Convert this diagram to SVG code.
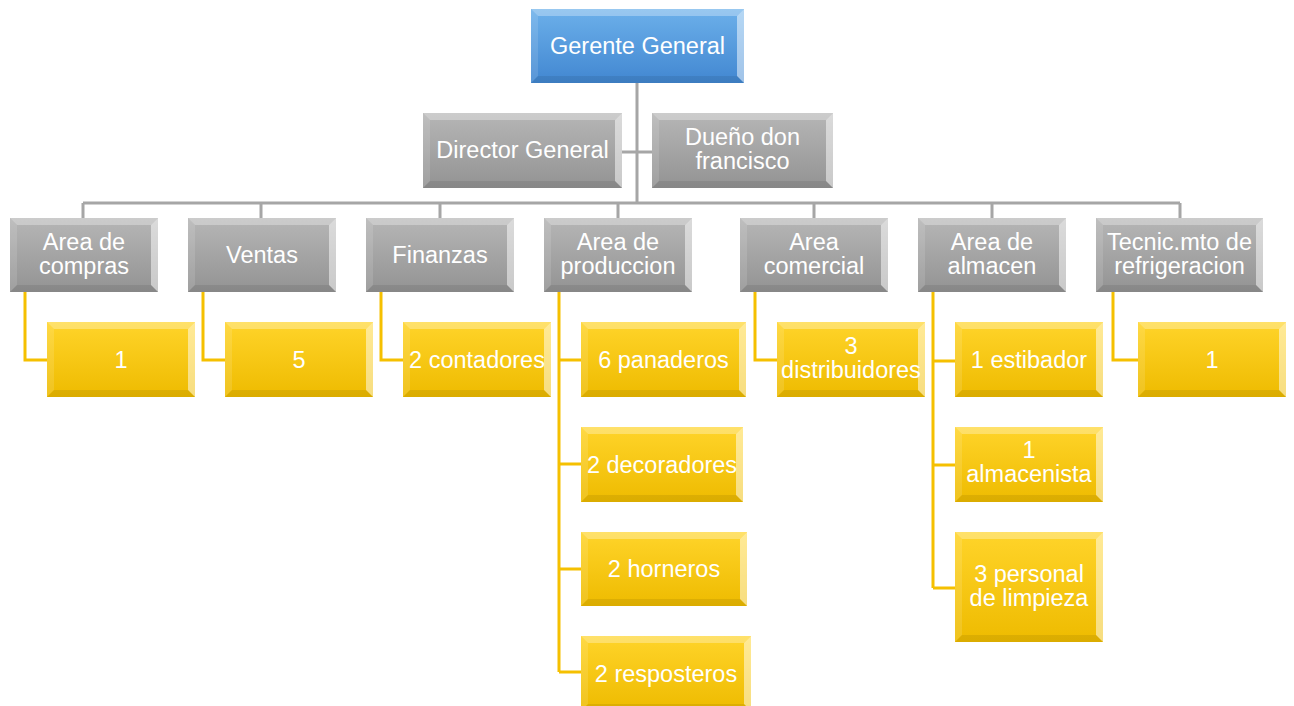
<svg xmlns="http://www.w3.org/2000/svg" width="1294" height="706" viewBox="0 0 1294 706">
<style>
.t{font-family:"Liberation Sans",Arial,sans-serif;font-size:23.5px;fill:#ffffff;text-anchor:middle}
.bt{fill:#ffffff;fill-opacity:0.3}
.bl{fill:#ffffff;fill-opacity:0.12}
.br{fill:#ffffff;fill-opacity:0.5}
.bb{fill:#000000;fill-opacity:0.08}
.cg{fill:none;stroke:#a6a6a6;stroke-width:3}
.cy{fill:none;stroke:#f5c000;stroke-width:3}
.blue{fill:url(#gBlue)}
.gray{fill:url(#gGray)}
.yel{fill:url(#gYel)}
</style>
<defs>
<linearGradient id="gBlue" x1="0" y1="0" x2="0" y2="1"><stop offset="0" stop-color="#6cb0ea"/><stop offset="1" stop-color="#4287d1"/></linearGradient>
<linearGradient id="gGray" x1="0" y1="0" x2="0" y2="1"><stop offset="0" stop-color="#b6b6b6"/><stop offset="1" stop-color="#939393"/></linearGradient>
<linearGradient id="gYel" x1="0" y1="0" x2="0" y2="1"><stop offset="0" stop-color="#ffd42a"/><stop offset="1" stop-color="#eebb00"/></linearGradient>
</defs>
<rect width="1294" height="706" fill="#ffffff"/>
<g id="connectors">
<path class="cg" d="M637 83V203M622 152H652M83 203H1180M83 203V218M261 203V218M440 203V218M618 203V218M814 203V218M992 203V218M1180 203V218"/>
<path class="cy" d="M25 292V360H47M203 292V360H225M381 292V360H403M559 292V672M559 360H581M559 464H581M559 569H581M559 672H581M755 292V360H777M933 292V588M933 361H955M933 465H955M933 588H955M1113 292V360H1138"/>
</g>
<g id="gerente" transform="translate(531,9)">
<rect class="blue" width="213" height="74"/>
<polygon class="bt" points="0,0 213,0 206,7 7,7"/><polygon class="bl" points="0,0 7,7 7,67 0,74"/><polygon class="br" points="213,0 213,74 206,67 206,7"/><polygon class="bb" points="0,74 213,74 206,67 7,67"/>
<text class="t" x="106.5" y="45">Gerente General</text>
</g>
<g id="director" transform="translate(423,113)">
<rect class="gray" width="199" height="75"/>
<polygon class="bt" points="0,0 199,0 192,7 7,7"/><polygon class="bl" points="0,0 7,7 7,68 0,75"/><polygon class="br" points="199,0 199,75 192,68 192,7"/><polygon class="bb" points="0,75 199,75 192,68 7,68"/>
<text class="t" x="99.5" y="45">Director General</text>
</g>
<g id="dueno" transform="translate(652,113)">
<rect class="gray" width="181" height="75"/>
<polygon class="bt" points="0,0 181,0 174,7 7,7"/><polygon class="bl" points="0,0 7,7 7,68 0,75"/><polygon class="br" points="181,0 181,75 174,68 174,7"/><polygon class="bb" points="0,75 181,75 174,68 7,68"/>
<text class="t" x="90.5" y="32">Dueño don<tspan x="90.5" dy="24">francisco</tspan></text>
</g>
<g id="compras" transform="translate(10,218)">
<rect class="gray" width="148" height="74"/>
<polygon class="bt" points="0,0 148,0 141,7 7,7"/><polygon class="bl" points="0,0 7,7 7,67 0,74"/><polygon class="br" points="148,0 148,74 141,67 141,7"/><polygon class="bb" points="0,74 148,74 141,67 7,67"/>
<text class="t" x="74" y="32">Area de<tspan x="74" dy="24">compras</tspan></text>
</g>
<g id="ventas" transform="translate(188,218)">
<rect class="gray" width="148" height="74"/>
<polygon class="bt" points="0,0 148,0 141,7 7,7"/><polygon class="bl" points="0,0 7,7 7,67 0,74"/><polygon class="br" points="148,0 148,74 141,67 141,7"/><polygon class="bb" points="0,74 148,74 141,67 7,67"/>
<text class="t" x="74" y="45">Ventas</text>
</g>
<g id="finanzas" transform="translate(366,218)">
<rect class="gray" width="148" height="74"/>
<polygon class="bt" points="0,0 148,0 141,7 7,7"/><polygon class="bl" points="0,0 7,7 7,67 0,74"/><polygon class="br" points="148,0 148,74 141,67 141,7"/><polygon class="bb" points="0,74 148,74 141,67 7,67"/>
<text class="t" x="74" y="45">Finanzas</text>
</g>
<g id="produccion" transform="translate(544,218)">
<rect class="gray" width="148" height="74"/>
<polygon class="bt" points="0,0 148,0 141,7 7,7"/><polygon class="bl" points="0,0 7,7 7,67 0,74"/><polygon class="br" points="148,0 148,74 141,67 141,7"/><polygon class="bb" points="0,74 148,74 141,67 7,67"/>
<text class="t" x="74" y="32">Area de<tspan x="74" dy="24">produccion</tspan></text>
</g>
<g id="comercial" transform="translate(740,218)">
<rect class="gray" width="148" height="74"/>
<polygon class="bt" points="0,0 148,0 141,7 7,7"/><polygon class="bl" points="0,0 7,7 7,67 0,74"/><polygon class="br" points="148,0 148,74 141,67 141,7"/><polygon class="bb" points="0,74 148,74 141,67 7,67"/>
<text class="t" x="74" y="32">Area<tspan x="74" dy="24">comercial</tspan></text>
</g>
<g id="almacen" transform="translate(918,218)">
<rect class="gray" width="148" height="74"/>
<polygon class="bt" points="0,0 148,0 141,7 7,7"/><polygon class="bl" points="0,0 7,7 7,67 0,74"/><polygon class="br" points="148,0 148,74 141,67 141,7"/><polygon class="bb" points="0,74 148,74 141,67 7,67"/>
<text class="t" x="74" y="32">Area de<tspan x="74" dy="24">almacen</tspan></text>
</g>
<g id="tecnic" transform="translate(1096,218)">
<rect class="gray" width="167" height="74"/>
<polygon class="bt" points="0,0 167,0 160,7 7,7"/><polygon class="bl" points="0,0 7,7 7,67 0,74"/><polygon class="br" points="167,0 167,74 160,67 160,7"/><polygon class="bb" points="0,74 167,74 160,67 7,67"/>
<text class="t" x="83.5" y="32">Tecnic.mto de<tspan x="83.5" dy="24">refrigeracion</tspan></text>
</g>
<g id="compras1" transform="translate(47,322)">
<rect class="yel" width="148" height="75"/>
<polygon class="bt" points="0,0 148,0 141,7 7,7"/><polygon class="bl" points="0,0 7,7 7,68 0,75"/><polygon class="br" points="148,0 148,75 141,68 141,7"/><polygon class="bb" points="0,75 148,75 141,68 7,68"/>
<text class="t" x="74" y="46">1</text>
</g>
<g id="ventas1" transform="translate(225,322)">
<rect class="yel" width="148" height="75"/>
<polygon class="bt" points="0,0 148,0 141,7 7,7"/><polygon class="bl" points="0,0 7,7 7,68 0,75"/><polygon class="br" points="148,0 148,75 141,68 141,7"/><polygon class="bb" points="0,75 148,75 141,68 7,68"/>
<text class="t" x="74" y="46">5</text>
</g>
<g id="finanzas1" transform="translate(403,322)">
<rect class="yel" width="148" height="75"/>
<polygon class="bt" points="0,0 148,0 141,7 7,7"/><polygon class="bl" points="0,0 7,7 7,68 0,75"/><polygon class="br" points="148,0 148,75 141,68 141,7"/><polygon class="bb" points="0,75 148,75 141,68 7,68"/>
<text class="t" x="74" y="46">2 contadores</text>
</g>
<g id="prod1" transform="translate(581,322)">
<rect class="yel" width="165" height="75"/>
<polygon class="bt" points="0,0 165,0 158,7 7,7"/><polygon class="bl" points="0,0 7,7 7,68 0,75"/><polygon class="br" points="165,0 165,75 158,68 158,7"/><polygon class="bb" points="0,75 165,75 158,68 7,68"/>
<text class="t" x="82.5" y="46">6 panaderos</text>
</g>
<g id="prod2" transform="translate(581,427)">
<rect class="yel" width="162" height="75"/>
<polygon class="bt" points="0,0 162,0 155,7 7,7"/><polygon class="bl" points="0,0 7,7 7,68 0,75"/><polygon class="br" points="162,0 162,75 155,68 155,7"/><polygon class="bb" points="0,75 162,75 155,68 7,68"/>
<text class="t" x="81" y="46">2 decoradores</text>
</g>
<g id="prod3" transform="translate(581,532)">
<rect class="yel" width="166" height="74"/>
<polygon class="bt" points="0,0 166,0 159,7 7,7"/><polygon class="bl" points="0,0 7,7 7,67 0,74"/><polygon class="br" points="166,0 166,74 159,67 159,7"/><polygon class="bb" points="0,74 166,74 159,67 7,67"/>
<text class="t" x="83" y="45">2 horneros</text>
</g>
<g id="prod4" transform="translate(581,636)">
<rect class="yel" width="170" height="75"/>
<polygon class="bt" points="0,0 170,0 163,7 7,7"/><polygon class="bl" points="0,0 7,7 7,68 0,75"/><polygon class="br" points="170,0 170,75 163,68 163,7"/><polygon class="bb" points="0,75 170,75 163,68 7,68"/>
<text class="t" x="85" y="46">2 resposteros</text>
</g>
<g id="comercial1" transform="translate(777,322)">
<rect class="yel" width="148" height="75"/>
<polygon class="bt" points="0,0 148,0 141,7 7,7"/><polygon class="bl" points="0,0 7,7 7,68 0,75"/><polygon class="br" points="148,0 148,75 141,68 141,7"/><polygon class="bb" points="0,75 148,75 141,68 7,68"/>
<text class="t" x="74" y="32">3<tspan x="74" dy="24">distribuidores</tspan></text>
</g>
<g id="almacen1" transform="translate(955,322)">
<rect class="yel" width="148" height="75"/>
<polygon class="bt" points="0,0 148,0 141,7 7,7"/><polygon class="bl" points="0,0 7,7 7,68 0,75"/><polygon class="br" points="148,0 148,75 141,68 141,7"/><polygon class="bb" points="0,75 148,75 141,68 7,68"/>
<text class="t" x="74" y="46">1 estibador</text>
</g>
<g id="almacen2" transform="translate(955,427)">
<rect class="yel" width="148" height="75"/>
<polygon class="bt" points="0,0 148,0 141,7 7,7"/><polygon class="bl" points="0,0 7,7 7,68 0,75"/><polygon class="br" points="148,0 148,75 141,68 141,7"/><polygon class="bb" points="0,75 148,75 141,68 7,68"/>
<text class="t" x="74" y="31">1<tspan x="74" dy="24">almacenista</tspan></text>
</g>
<g id="almacen3" transform="translate(955,532)">
<rect class="yel" width="148" height="110"/>
<polygon class="bt" points="0,0 148,0 141,7 7,7"/><polygon class="bl" points="0,0 7,7 7,103 0,110"/><polygon class="br" points="148,0 148,110 141,103 141,7"/><polygon class="bb" points="0,110 148,110 141,103 7,103"/>
<text class="t" x="74" y="50">3 personal<tspan x="74" dy="24">de limpieza</tspan></text>
</g>
<g id="tecnic1" transform="translate(1138,322)">
<rect class="yel" width="148" height="75"/>
<polygon class="bt" points="0,0 148,0 141,7 7,7"/><polygon class="bl" points="0,0 7,7 7,68 0,75"/><polygon class="br" points="148,0 148,75 141,68 141,7"/><polygon class="bb" points="0,75 148,75 141,68 7,68"/>
<text class="t" x="74" y="46">1</text>
</g>
</svg>
